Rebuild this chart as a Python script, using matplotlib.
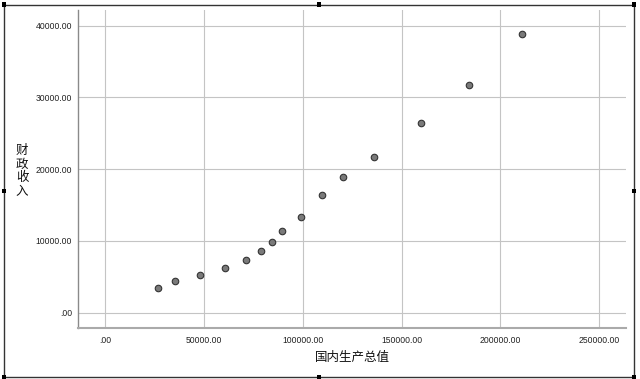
import matplotlib
matplotlib.use("Agg")
import matplotlib.pyplot as plt
from matplotlib.patches import Rectangle

gdp = [26970, 35270, 48080, 60730, 71200, 78950, 84510, 89570, 99190,
       109670, 120445, 135980, 159920, 184060, 211030]
revenue = [3482, 4373, 5209, 6226, 7382, 8635, 9889, 11421, 13370,
           16393, 18900, 21727, 26420, 31671, 38774]
xticks = [0, 50000, 100000, 150000, 200000, 250000]
xtick_labels = [".00", "50000.00", "100000.00", "150000.00", "200000.00", "250000.00"]
yticks = [0, 10000, 20000, 30000, 40000]
ytick_labels = [".00", "10000.00", "20000.00", "30000.00", "40000.00"]

W, H = 640, 379
fig = plt.figure(figsize=(6.4, 3.79), dpi=100)
fig.patch.set_facecolor("white")

# plot area in pixels
left, right, top, bottom = 77.7, 626, 9.5, 328
ax = fig.add_axes([left / W, 1 - bottom / H, (right - left) / W, (bottom - top) / H])
ax.set_xlim(-13800, 263500)
ax.set_ylim(-2130, 42250)

ax.grid(True, color="#c4c4c4", linewidth=0.8)
ax.set_axisbelow(True)
ax.set_xticks(xticks)
ax.set_xticklabels(xtick_labels)
ax.set_yticks(yticks)
ax.set_yticklabels(ytick_labels)
ax.tick_params(length=0, labelsize=6.2, colors="#222222", pad=4)
ax.tick_params(axis="x", pad=6)
for lbl in ax.get_xticklabels() + ax.get_yticklabels():
    lbl.set_family(["Liberation Sans", "DejaVu Sans"])

for s in ["top", "right"]:
    ax.spines[s].set_visible(False)
ax.spines["left"].set_color("#8a8a8a")
ax.spines["bottom"].set_color("#aaaaaa")
ax.spines["left"].set_linewidth(1.0)
ax.spines["bottom"].set_linewidth(1.5)

ax.scatter(gdp, revenue, s=22, facecolor="#7a7a7a", edgecolor="#333333",
           linewidth=0.8, zorder=3)

cjk = ["Noto Sans CJK SC", "DejaVu Sans"]
fig.text(352 / W, 1 - 357 / H, "国内生产总值", family=cjk, fontsize=9,
         ha="center", va="center", color="#111111")
fig.text(22 / W, 1 - 171 / H, "财\n政\n收\n入", family=cjk, fontsize=9,
         ha="center", va="center", color="#111111", linespacing=1.05)

# outer selection frame with handles
fx0, fx1, fy0, fy1 = 3.5, 634, 4.5, 376.5
frame = Rectangle((fx0 / W, 1 - fy1 / H), (fx1 - fx0) / W, (fy1 - fy0) / H,
                  transform=fig.transFigure, fill=False, edgecolor="#333333",
                  linewidth=1.0)
fig.add_artist(frame)
hs = 4
for hx in [fx0, (fx0 + fx1) / 2, fx1]:
    for hy in [fy0, (fy0 + fy1) / 2, fy1]:
        if hx == (fx0 + fx1) / 2 and hy == (fy0 + fy1) / 2:
            continue
        fig.add_artist(Rectangle(((hx - hs / 2) / W, 1 - (hy + hs / 2) / H),
                                 hs / W, hs / H, transform=fig.transFigure,
                                 facecolor="black", edgecolor="none"))

fig.savefig("out.png", dpi=100)
